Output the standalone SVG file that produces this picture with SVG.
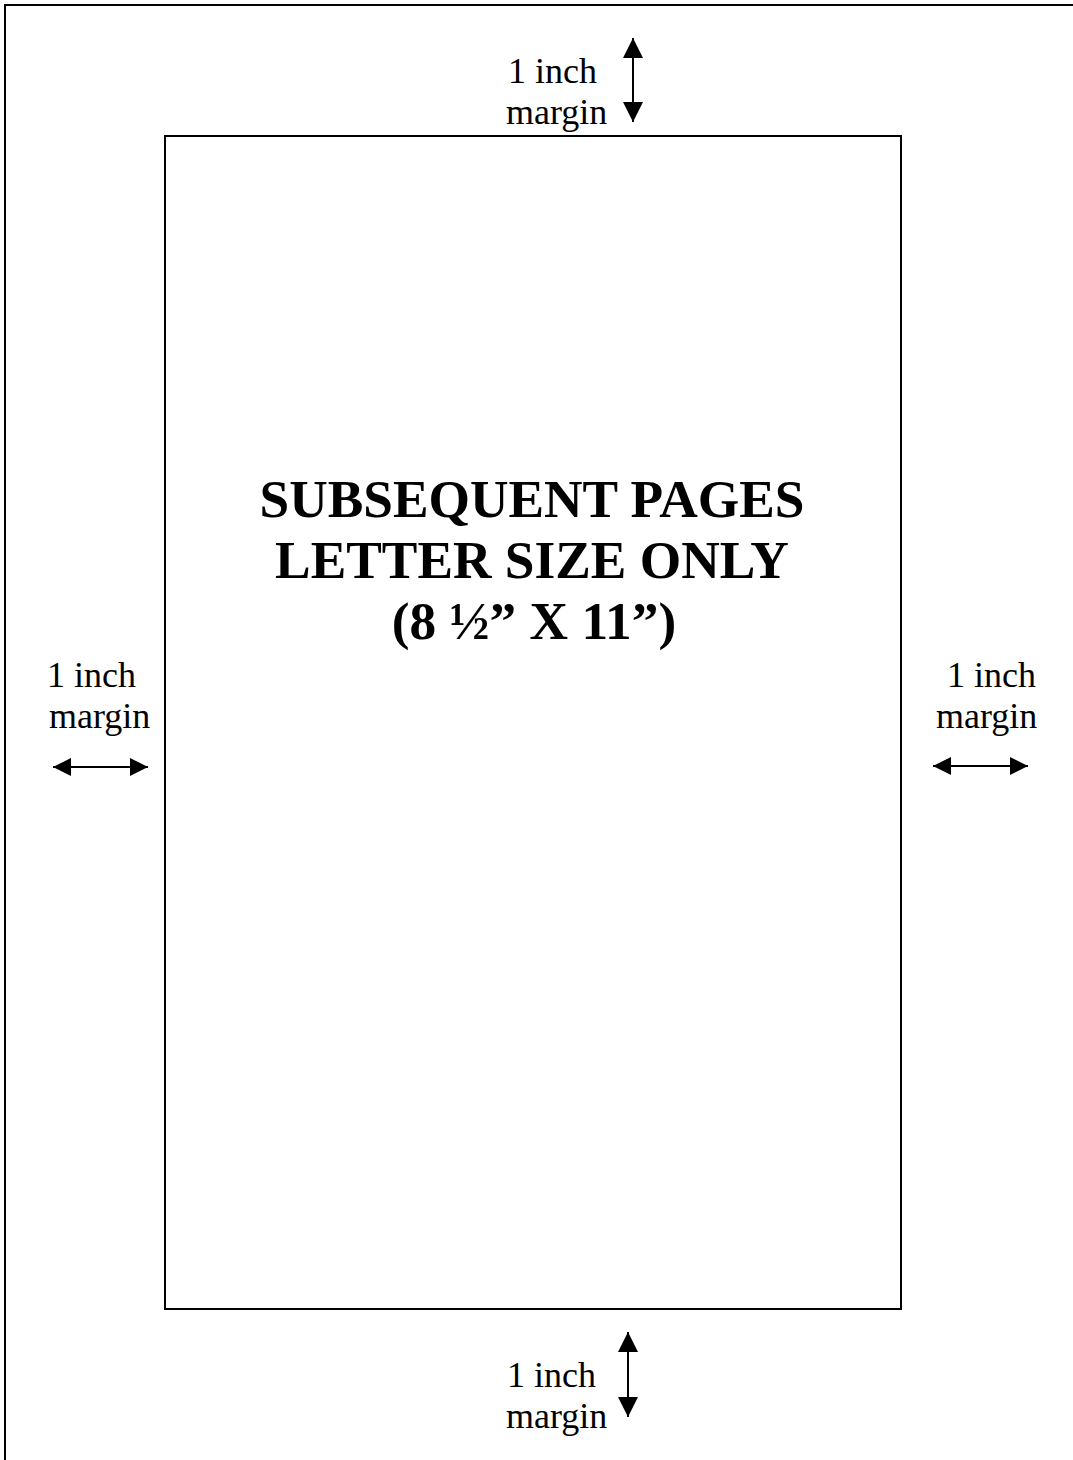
<svg xmlns="http://www.w3.org/2000/svg" width="1073" height="1460" viewBox="0 0 1073 1460">
  <style>
    .frame { fill: none; stroke: #000; stroke-width: 2; }
    .lbl { font-family: "Liberation Serif", "Times New Roman", serif; font-size: 36px; fill: #000; }
    .title { font-family: "Liberation Serif", "Times New Roman", serif; font-size: 53.33px; font-weight: bold; fill: #000; text-anchor: middle; }
    .arrow { stroke: #000; stroke-width: 2; fill: none; }
    .arrV { marker-start: url(#headV); marker-end: url(#headV); }
    .arrH { marker-start: url(#headH); marker-end: url(#headH); }
  </style>
  <defs>
    <marker id="headV" viewBox="0 0 20 20" refX="20" refY="10" markerWidth="20" markerHeight="20" markerUnits="userSpaceOnUse" orient="auto-start-reverse">
      <path d="M0,0 L20,10 L0,20 Z" fill="#000"/>
    </marker>
    <marker id="headH" viewBox="0 0 18 18" refX="18" refY="9" markerWidth="18" markerHeight="18" markerUnits="userSpaceOnUse" orient="auto-start-reverse">
      <path d="M0,0 L18,9 L0,18 Z" fill="#000"/>
    </marker>
  </defs>
  <rect width="1073" height="1460" fill="#fff"/>

  <g id="outer-page">
    <rect class="frame" x="5" y="5" width="1100" height="1500"/>
  </g>

  <g id="text-area">
    <rect class="frame" x="165" y="136" width="736" height="1173"/>
    <text class="title" x="532" y="517">SUBSEQUENT PAGES</text>
    <text class="title" x="532" y="578">LETTER SIZE ONLY</text>
    <text class="title" x="534" y="639">(8 ½” X 11”)</text>
  </g>

  <g id="label-top">
    <text class="lbl" x="508" y="83">1 inch</text>
    <text class="lbl" x="506" y="124">margin</text>
  </g>
  <g id="label-left">
    <text class="lbl" x="47" y="687">1 inch</text>
    <text class="lbl" x="49" y="728">margin</text>
  </g>
  <g id="label-right">
    <text class="lbl" x="947" y="687">1 inch</text>
    <text class="lbl" x="936" y="728">margin</text>
  </g>
  <g id="label-bottom">
    <text class="lbl" x="507" y="1387">1 inch</text>
    <text class="lbl" x="506" y="1428">margin</text>
  </g>

  <g id="connectors">
    <line class="arrow arrV" x1="633" y1="38" x2="633" y2="122"/>
    <line class="arrow arrV" x1="628" y1="1332" x2="628" y2="1417"/>
    <line class="arrow arrH" x1="53" y1="767" x2="148" y2="767"/>
    <line class="arrow arrH" x1="933" y1="766" x2="1028" y2="766"/>
  </g>
</svg>
